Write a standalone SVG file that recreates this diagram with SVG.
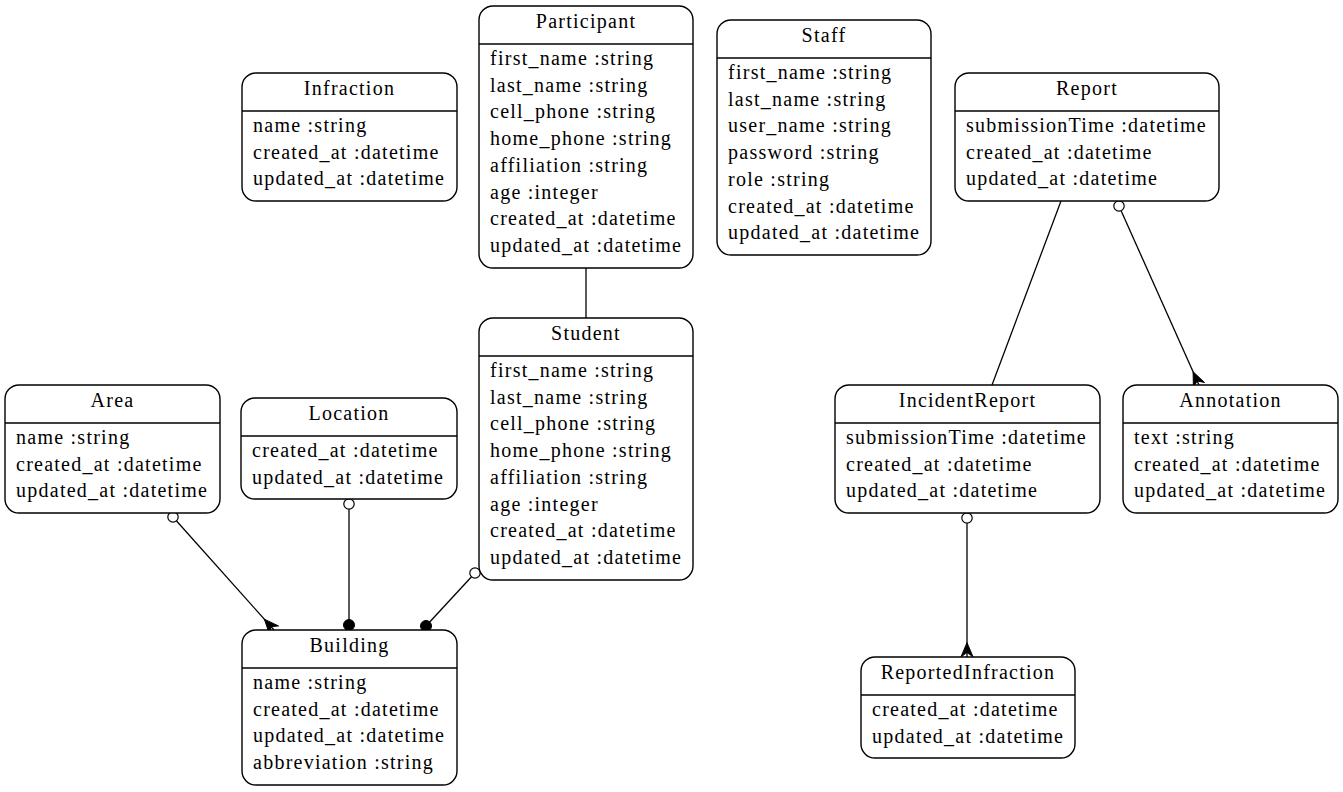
<svg xmlns="http://www.w3.org/2000/svg" width="1343" height="792" viewBox="0 0 1343 792">
<style>
.bg{fill:#fff}
.box{fill:#fff;stroke:#000;stroke-width:1.4}
.div{stroke:#000;stroke-width:1.4}
text{font-family:"Liberation Serif","Times New Roman",serif;font-size:20px;fill:#000;letter-spacing:1.25px}
.t{text-anchor:middle}
.edge{stroke:#000;stroke-width:1.3;fill:none}
.oc{fill:#fff;stroke:#000;stroke-width:1.2}
.fc{fill:#000;stroke:#000;stroke-width:1}
</style>
<defs>
<marker id="crow" markerUnits="userSpaceOnUse" markerWidth="20" markerHeight="20" viewBox="-16 -8 18 16" refX="0" refY="0" orient="auto">
<path d="M -13 0 L 0 -5.5 L -4 0 L 0 5.5 Z" fill="#000" stroke="#000" stroke-width="0.8"/>
</marker>
</defs>
<rect class="bg" x="0" y="0" width="1343" height="792"/>

<g id="connectors">
<line class="edge" x1="586" y1="268" x2="586" y2="318"/>
<line class="edge" x1="1061" y1="201" x2="992" y2="385"/>
<line class="edge" x1="1119" y1="206" x2="1199" y2="385" marker-end="url(#crow)"/>
<circle class="oc" cx="1119" cy="206" r="5.2"/>
<line class="edge" x1="967" y1="518" x2="967" y2="657" marker-end="url(#crow)"/>
<circle class="oc" cx="967" cy="518" r="5.2"/>
<line class="edge" x1="173" y1="517" x2="274" y2="630" marker-end="url(#crow)"/>
<circle class="oc" cx="173" cy="517" r="5.2"/>
<line class="edge" x1="349" y1="504" x2="349" y2="625"/>
<circle class="oc" cx="349" cy="504" r="5.2"/>
<circle class="fc" cx="349" cy="625" r="5.5"/>
<line class="edge" x1="475" y1="573" x2="426" y2="626"/>
<circle class="oc" cx="475" cy="573" r="5.2"/>
<circle class="fc" cx="426" cy="626" r="5.5"/>
</g>

<g id="Participant" transform="translate(479,6)">
<rect class="box" x="0" y="0" width="214" height="262" rx="14"/>
<line class="div" x1="0" y1="38" x2="214" y2="38"/>
<text class="t" x="107" y="22">Participant</text>
<text x="11" y="59">first_name :string</text>
<text x="11" y="85.7">last_name :string</text>
<text x="11" y="112.4">cell_phone :string</text>
<text x="11" y="139.1">home_phone :string</text>
<text x="11" y="165.8">affiliation :string</text>
<text x="11" y="192.5">age :integer</text>
<text x="11" y="219.2">created_at :datetime</text>
<text x="11" y="245.9">updated_at :datetime</text>
</g>

<g id="Staff" transform="translate(717,20)">
<rect class="box" x="0" y="0" width="214" height="235" rx="14"/>
<line class="div" x1="0" y1="38" x2="214" y2="38"/>
<text class="t" x="107" y="22">Staff</text>
<text x="11" y="59">first_name :string</text>
<text x="11" y="85.7">last_name :string</text>
<text x="11" y="112.4">user_name :string</text>
<text x="11" y="139.1">password :string</text>
<text x="11" y="165.8">role :string</text>
<text x="11" y="192.5">created_at :datetime</text>
<text x="11" y="219.2">updated_at :datetime</text>
</g>

<g id="Infraction" transform="translate(242,73)">
<rect class="box" x="0" y="0" width="215" height="128" rx="14"/>
<line class="div" x1="0" y1="38" x2="215" y2="38"/>
<text class="t" x="107.5" y="22">Infraction</text>
<text x="11" y="59">name :string</text>
<text x="11" y="85.7">created_at :datetime</text>
<text x="11" y="112.4">updated_at :datetime</text>
</g>

<g id="Report" transform="translate(955,73)">
<rect class="box" x="0" y="0" width="264" height="128" rx="14"/>
<line class="div" x1="0" y1="38" x2="264" y2="38"/>
<text class="t" x="132" y="22">Report</text>
<text x="11" y="59">submissionTime :datetime</text>
<text x="11" y="85.7">created_at :datetime</text>
<text x="11" y="112.4">updated_at :datetime</text>
</g>

<g id="Area" transform="translate(5,385)">
<rect class="box" x="0" y="0" width="215" height="128" rx="14"/>
<line class="div" x1="0" y1="38" x2="215" y2="38"/>
<text class="t" x="107.5" y="22">Area</text>
<text x="11" y="59">name :string</text>
<text x="11" y="85.7">created_at :datetime</text>
<text x="11" y="112.4">updated_at :datetime</text>
</g>

<g id="Location" transform="translate(241,398)">
<rect class="box" x="0" y="0" width="216" height="101" rx="14"/>
<line class="div" x1="0" y1="38" x2="216" y2="38"/>
<text class="t" x="108" y="22">Location</text>
<text x="11" y="59">created_at :datetime</text>
<text x="11" y="85.7">updated_at :datetime</text>
</g>

<g id="Student" transform="translate(479,318)">
<rect class="box" x="0" y="0" width="214" height="262" rx="14"/>
<line class="div" x1="0" y1="38" x2="214" y2="38"/>
<text class="t" x="107" y="22">Student</text>
<text x="11" y="59">first_name :string</text>
<text x="11" y="85.7">last_name :string</text>
<text x="11" y="112.4">cell_phone :string</text>
<text x="11" y="139.1">home_phone :string</text>
<text x="11" y="165.8">affiliation :string</text>
<text x="11" y="192.5">age :integer</text>
<text x="11" y="219.2">created_at :datetime</text>
<text x="11" y="245.9">updated_at :datetime</text>
</g>

<g id="IncidentReport" transform="translate(835,385)">
<rect class="box" x="0" y="0" width="265" height="128" rx="14"/>
<line class="div" x1="0" y1="38" x2="265" y2="38"/>
<text class="t" x="132.5" y="22">IncidentReport</text>
<text x="11" y="59">submissionTime :datetime</text>
<text x="11" y="85.7">created_at :datetime</text>
<text x="11" y="112.4">updated_at :datetime</text>
</g>

<g id="Annotation" transform="translate(1123,385)">
<rect class="box" x="0" y="0" width="215" height="128" rx="14"/>
<line class="div" x1="0" y1="38" x2="215" y2="38"/>
<text class="t" x="107.5" y="22">Annotation</text>
<text x="11" y="59">text :string</text>
<text x="11" y="85.7">created_at :datetime</text>
<text x="11" y="112.4">updated_at :datetime</text>
</g>

<g id="Building" transform="translate(242,630)">
<rect class="box" x="0" y="0" width="215" height="155" rx="14"/>
<line class="div" x1="0" y1="38" x2="215" y2="38"/>
<text class="t" x="107.5" y="22">Building</text>
<text x="11" y="59">name :string</text>
<text x="11" y="85.7">created_at :datetime</text>
<text x="11" y="112.4">updated_at :datetime</text>
<text x="11" y="139.1">abbreviation :string</text>
</g>

<g id="ReportedInfraction" transform="translate(861,657)">
<rect class="box" x="0" y="0" width="214" height="101" rx="14"/>
<line class="div" x1="0" y1="38" x2="214" y2="38"/>
<text class="t" x="107" y="22">ReportedInfraction</text>
<text x="11" y="59">created_at :datetime</text>
<text x="11" y="85.7">updated_at :datetime</text>
</g>
</svg>
